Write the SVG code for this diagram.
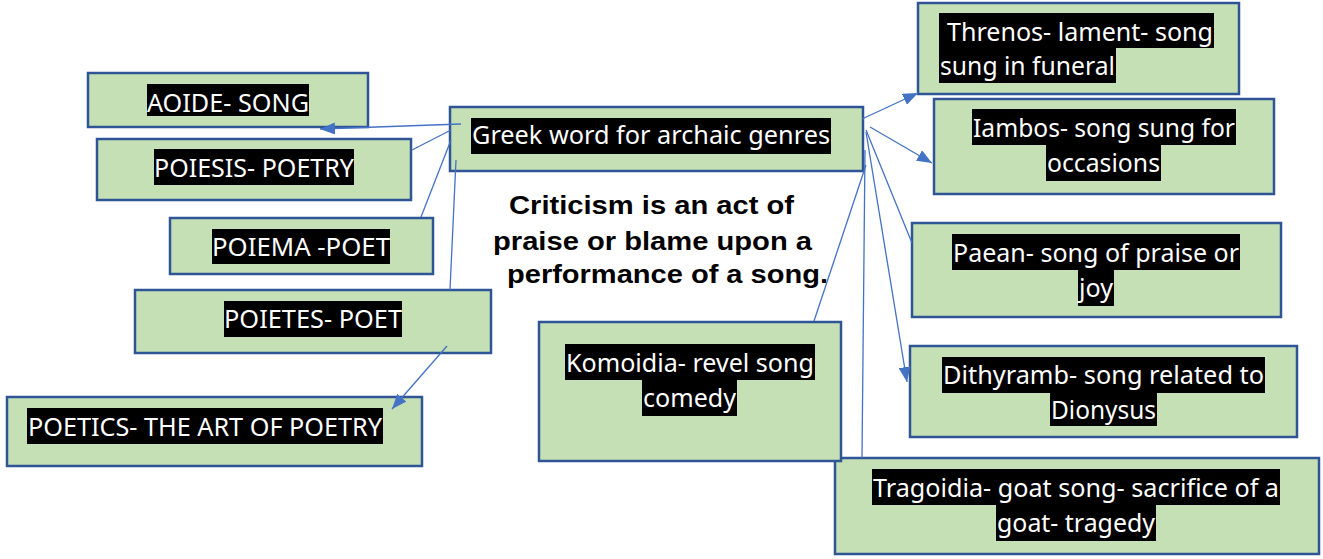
<svg xmlns="http://www.w3.org/2000/svg" width="1323" height="559" viewBox="0 0 1323 559">
<style>
.box{fill:#C5E0B4;stroke:#2F5597;stroke-width:2.5}
.hl{fill:#000}
.t{font-family:"Noto Sans","Open Sans",sans-serif;font-size:25.5px;fill:#fff}
.c{font-family:"Liberation Sans",Arial,sans-serif;font-size:25.5px;font-weight:bold;fill:#000}
.ln{stroke:#4472C4;stroke-width:1.3;fill:none}
</style>
<defs>
<marker id="ah" markerUnits="userSpaceOnUse" markerWidth="16" markerHeight="12" refX="15" refY="6" orient="auto">
<path d="M0,0 L15,6 L0,12 Z" fill="#4472C4"/>
</marker>
</defs>
<rect width="1323" height="559" fill="#fff"/>

<g id="aoide"><rect class="box" x="88" y="73" width="280" height="54"/><rect class="hl" x="147" y="84" width="162" height="32"/><text class="t" x="147" y="112" textLength="162" lengthAdjust="spacingAndGlyphs">AOIDE- SONG</text></g>
<g id="poiesis"><rect class="box" x="97" y="139" width="314" height="61"/><rect class="hl" x="154" y="149" width="200" height="36"/><text class="t" x="154" y="177" textLength="200" lengthAdjust="spacingAndGlyphs">POIESIS- POETRY</text></g>
<g id="poiema"><rect class="box" x="170" y="218" width="263" height="56"/><rect class="hl" x="212" y="229" width="178" height="35"/><text class="t" x="212" y="256" textLength="178" lengthAdjust="spacingAndGlyphs">POIEMA -POET</text></g>
<g id="poietes"><rect class="box" x="135" y="290" width="356" height="63"/><rect class="hl" x="224" y="301" width="178" height="36"/><text class="t" x="224" y="328" textLength="178" lengthAdjust="spacingAndGlyphs">POIETES- POET</text></g>
<g id="poetics"><rect class="box" x="7" y="397" width="415" height="69"/><rect class="hl" x="27" y="408" width="356" height="36"/><text class="t" x="28" y="436" textLength="354" lengthAdjust="spacingAndGlyphs">POETICS- THE ART OF POETRY</text></g>
<g id="greek"><rect class="box" x="450" y="107" width="413" height="64"/><rect class="hl" x="471" y="118" width="360" height="36"/><text class="t" x="472" y="144" textLength="358" lengthAdjust="spacingAndGlyphs">Greek word for archaic genres</text></g>

<g id="tragoidia"><rect class="box" x="835" y="458" width="484" height="96"/><rect class="hl" x="872" y="469" width="408" height="36"/><rect class="hl" x="996" y="505" width="160" height="36"/><text class="t" x="873" y="497" textLength="406" lengthAdjust="spacingAndGlyphs">Tragoidia- goat song- sacrifice of a</text><text class="t" x="997" y="532" textLength="158" lengthAdjust="spacingAndGlyphs">goat- tragedy</text></g>
<g id="komoidia"><rect class="box" x="539" y="322" width="302" height="139"/><rect class="hl" x="565" y="344" width="250" height="36"/><rect class="hl" x="642" y="380" width="95" height="36"/><text class="t" x="566" y="372" textLength="248" lengthAdjust="spacingAndGlyphs">Komoidia- revel song</text><text class="t" x="643" y="407" textLength="93" lengthAdjust="spacingAndGlyphs">comedy</text></g>
<g id="threnos"><rect class="box" x="918" y="3" width="321" height="91"/><rect class="hl" x="939" y="13" width="275" height="35"/><rect class="hl" x="939" y="48" width="177" height="35"/><text class="t" x="947" y="41" textLength="266" lengthAdjust="spacingAndGlyphs">Threnos- lament- song</text><text class="t" x="940" y="75" textLength="175" lengthAdjust="spacingAndGlyphs">sung in funeral</text></g>
<g id="iambos"><rect class="box" x="934" y="99" width="340" height="95"/><rect class="hl" x="972" y="109" width="264" height="36"/><rect class="hl" x="1046" y="145" width="115" height="36"/><text class="t" x="973" y="137" textLength="262" lengthAdjust="spacingAndGlyphs">Iambos- song sung for</text><text class="t" x="1047" y="172" textLength="113" lengthAdjust="spacingAndGlyphs">occasions</text></g>
<g id="paean"><rect class="box" x="912" y="223" width="369" height="94"/><rect class="hl" x="952" y="234" width="288" height="36"/><rect class="hl" x="1078" y="270" width="36" height="36"/><text class="t" x="953" y="262" textLength="286" lengthAdjust="spacingAndGlyphs">Paean- song of praise or</text><text class="t" x="1079" y="297" textLength="34" lengthAdjust="spacingAndGlyphs">joy</text></g>
<g id="dithyramb"><rect class="box" x="910" y="346" width="387" height="91"/><rect class="hl" x="942" y="357" width="323" height="36"/><rect class="hl" x="1050" y="393" width="107" height="33"/><text class="t" x="943" y="384" textLength="321" lengthAdjust="spacingAndGlyphs">Dithyramb- song related to</text><text class="t" x="1051" y="419" textLength="105" lengthAdjust="spacingAndGlyphs">Dionysus</text></g>

<g id="note"><text class="c" x="509" y="214" textLength="285" lengthAdjust="spacingAndGlyphs">Criticism is an act of</text><text class="c" x="493" y="250" textLength="319" lengthAdjust="spacingAndGlyphs">praise or blame upon a</text><text class="c" x="507" y="283" textLength="321" lengthAdjust="spacingAndGlyphs">performance of a song.</text></g>

<g id="connectors">
<line class="ln" x1="461" y1="124" x2="320" y2="129" marker-end="url(#ah)"/>
<line class="ln" x1="451" y1="130" x2="412" y2="150"/>
<line class="ln" x1="451" y1="140" x2="421" y2="217"/>
<line class="ln" x1="456" y1="160" x2="450" y2="290"/>
<line class="ln" x1="447" y1="346" x2="392" y2="409" marker-end="url(#ah)"/>
<line class="ln" x1="862" y1="119" x2="918" y2="93" marker-end="url(#ah)"/>
<line class="ln" x1="870" y1="127" x2="932" y2="163" marker-end="url(#ah)"/>
<line class="ln" x1="866" y1="130" x2="912" y2="243"/>
<line class="ln" x1="866" y1="132" x2="907" y2="382" marker-end="url(#ah)"/>
<line class="ln" x1="865" y1="150" x2="862" y2="458"/>
<line class="ln" x1="866" y1="165" x2="814" y2="321"/>
</g>
</svg>
